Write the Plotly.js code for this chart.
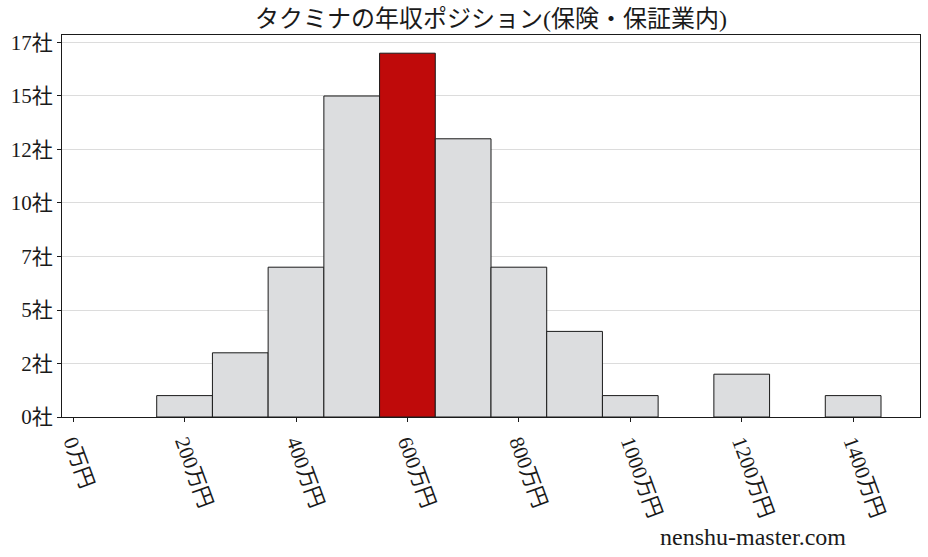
<!DOCTYPE html>
<html>
<head>
<meta charset="utf-8">
<script src="https://cdn.plot.ly/plotly-3.0.1.min.js"></script>
<style>
  html, body { margin:0; padding:0; background:#fff; }
  #chart { width:928px; height:557px; }
</style>
</head>
<body>
<div id="chart"></div>
<script>
// 年収分布 (保険・保証業内)
const salaryBins = [100, 200, 300, 400, 500, 600, 700, 800, 900, 1000, 1100, 1200, 1300, 1400];
const companyCounts = [0, 1, 3, 7, 15, 17, 13, 7, 4, 1, 0, 2, 0, 1];
const highlightBin = 600;

const xTickVals = [0, 200, 400, 600, 800, 1000, 1200, 1400];
const xTickText = ['0万円', '200万円', '400万円', '600万円', '800万円', '1000万円', '1200万円', '1400万円'];
const yTickVals = [0, 2.5, 5, 7.5, 10, 12.5, 15, 17.5];
const yTickText = ['0社', '2社', '5社', '7社', '10社', '12社', '15社', '17社'];

const FONT = 'Liberation Serif, DejaVu Serif, Noto Sans CJK JP, serif';

(function(){
  const colors = salaryBins.map(b => b === highlightBin ? '#bf0a0a' : '#dcdddf');
  // pas de contour pour les classes vides
  const edgeWidths = companyCounts.map(c => c > 0 ? 1 : 0);

  const trace = {
    type: 'bar',
    x: salaryBins,
    y: companyCounts,
    width: 100,
    marker: { color: colors, line: { color: '#1a1a1a', width: edgeWidths } },
    hoverinfo: 'x+y'
  };

  const layout = {
    width: 928,
    height: 557,
    margin: { l: 62, r: 8, t: 35, b: 140 },
    paper_bgcolor: '#fff',
    plot_bgcolor: '#fff',
    showlegend: false,
    bargap: 0,
    font: { family: FONT, color: '#1a1a1a', size: 21 },
    title: {
      text: 'タクミナの年収ポジション(保険・保証業内)',
      font: { family: FONT, size: 24, color: '#1a1a1a' },
      x: 0.5, xref: 'paper', xanchor: 'center',
      y: 0.967, yref: 'container', yanchor: 'middle'
    },
    xaxis: {
      range: [-20, 1520],
      tickvals: xTickVals,
      ticktext: xTickText,
      tickangle: 70,
      ticks: 'outside', ticklen: 4, tickcolor: '#1a1a1a',
      showgrid: false, zeroline: false,
      showline: true, linecolor: '#1a1a1a', linewidth: 1, mirror: true,
      tickfont: { family: FONT, size: 21 }
    },
    yaxis: {
      range: [0, 17.85],
      tickvals: yTickVals,
      ticktext: yTickText,
      ticks: 'outside', ticklen: 4, tickcolor: '#1a1a1a',
      showgrid: true, gridcolor: '#dcdcdc', gridwidth: 1,
      zeroline: false,
      showline: true, linecolor: '#1a1a1a', linewidth: 1, mirror: true,
      tickfont: { family: FONT, size: 21 }
    },
    annotations: [{
      text: 'nenshu-master.com',
      xref: 'paper', yref: 'paper',
      x: 0.805, y: -0.315,
      xanchor: 'center', yanchor: 'middle',
      showarrow: false,
      font: { family: FONT, size: 24, color: '#1a1a1a' }
    }]
  };

  Plotly.newPlot('chart', [trace], layout, { displayModeBar: false, staticPlot: true });
})();
</script>
</body>
</html>
